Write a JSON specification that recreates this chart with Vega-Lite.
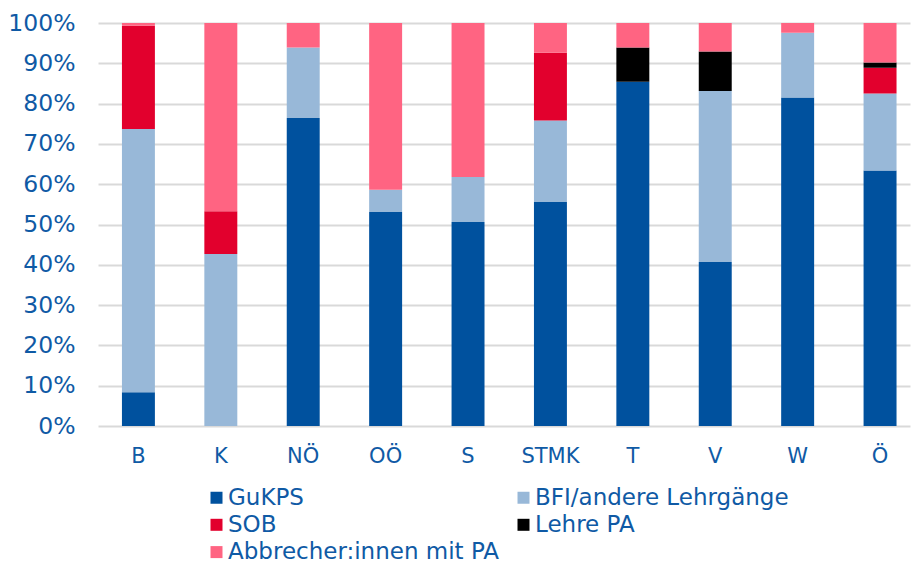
{
  "$schema": "https://vega.github.io/schema/vega-lite/v6.json",
  "width": 812,
  "height": 403,
  "autosize": "none",
  "padding": {"left": 98, "top": 23, "right": 2, "bottom": 137},
  "background": "white",
  "config": {
    "font": "DejaVu Sans",
    "view": {"stroke": null}
  },
  "data": {
    "values": [
      {"land": "B", "serie": "GuKPS", "o": 1, "wert": 8.4},
      {"land": "B", "serie": "BFI/andere Lehrgänge", "o": 2, "wert": 65.3},
      {"land": "B", "serie": "SOB", "o": 3, "wert": 25.6},
      {"land": "B", "serie": "Lehre PA", "o": 4, "wert": 0},
      {"land": "B", "serie": "Abbrecher:innen mit PA", "o": 5, "wert": 0.7},
      {"land": "K", "serie": "GuKPS", "o": 1, "wert": 0},
      {"land": "K", "serie": "BFI/andere Lehrgänge", "o": 2, "wert": 42.7},
      {"land": "K", "serie": "SOB", "o": 3, "wert": 10.6},
      {"land": "K", "serie": "Lehre PA", "o": 4, "wert": 0},
      {"land": "K", "serie": "Abbrecher:innen mit PA", "o": 5, "wert": 46.7},
      {"land": "NÖ", "serie": "GuKPS", "o": 1, "wert": 76.4},
      {"land": "NÖ", "serie": "BFI/andere Lehrgänge", "o": 2, "wert": 17.5},
      {"land": "NÖ", "serie": "SOB", "o": 3, "wert": 0},
      {"land": "NÖ", "serie": "Lehre PA", "o": 4, "wert": 0},
      {"land": "NÖ", "serie": "Abbrecher:innen mit PA", "o": 5, "wert": 6.1},
      {"land": "OÖ", "serie": "GuKPS", "o": 1, "wert": 53.1},
      {"land": "OÖ", "serie": "BFI/andere Lehrgänge", "o": 2, "wert": 5.5},
      {"land": "OÖ", "serie": "SOB", "o": 3, "wert": 0},
      {"land": "OÖ", "serie": "Lehre PA", "o": 4, "wert": 0},
      {"land": "OÖ", "serie": "Abbrecher:innen mit PA", "o": 5, "wert": 41.4},
      {"land": "S", "serie": "GuKPS", "o": 1, "wert": 50.6},
      {"land": "S", "serie": "BFI/andere Lehrgänge", "o": 2, "wert": 11.2},
      {"land": "S", "serie": "SOB", "o": 3, "wert": 0},
      {"land": "S", "serie": "Lehre PA", "o": 4, "wert": 0},
      {"land": "S", "serie": "Abbrecher:innen mit PA", "o": 5, "wert": 38.2},
      {"land": "STMK", "serie": "GuKPS", "o": 1, "wert": 55.6},
      {"land": "STMK", "serie": "BFI/andere Lehrgänge", "o": 2, "wert": 20.2},
      {"land": "STMK", "serie": "SOB", "o": 3, "wert": 16.8},
      {"land": "STMK", "serie": "Lehre PA", "o": 4, "wert": 0},
      {"land": "STMK", "serie": "Abbrecher:innen mit PA", "o": 5, "wert": 7.4},
      {"land": "T", "serie": "GuKPS", "o": 1, "wert": 85.4},
      {"land": "T", "serie": "BFI/andere Lehrgänge", "o": 2, "wert": 0},
      {"land": "T", "serie": "SOB", "o": 3, "wert": 0},
      {"land": "T", "serie": "Lehre PA", "o": 4, "wert": 8.5},
      {"land": "T", "serie": "Abbrecher:innen mit PA", "o": 5, "wert": 6.1},
      {"land": "V", "serie": "GuKPS", "o": 1, "wert": 40.7},
      {"land": "V", "serie": "BFI/andere Lehrgänge", "o": 2, "wert": 42.4},
      {"land": "V", "serie": "SOB", "o": 3, "wert": 0},
      {"land": "V", "serie": "Lehre PA", "o": 4, "wert": 9.8},
      {"land": "V", "serie": "Abbrecher:innen mit PA", "o": 5, "wert": 7.1},
      {"land": "W", "serie": "GuKPS", "o": 1, "wert": 81.5},
      {"land": "W", "serie": "BFI/andere Lehrgänge", "o": 2, "wert": 16.1},
      {"land": "W", "serie": "SOB", "o": 3, "wert": 0},
      {"land": "W", "serie": "Lehre PA", "o": 4, "wert": 0},
      {"land": "W", "serie": "Abbrecher:innen mit PA", "o": 5, "wert": 2.4},
      {"land": "Ö", "serie": "GuKPS", "o": 1, "wert": 63.4},
      {"land": "Ö", "serie": "BFI/andere Lehrgänge", "o": 2, "wert": 19.1},
      {"land": "Ö", "serie": "SOB", "o": 3, "wert": 6.4},
      {"land": "Ö", "serie": "Lehre PA", "o": 4, "wert": 1.3},
      {"land": "Ö", "serie": "Abbrecher:innen mit PA", "o": 5, "wert": 9.8}
    ]
  },
  "mark": {"type": "bar"},
  "encoding": {
    "x": {
      "field": "land",
      "type": "nominal",
      "sort": ["B", "K", "NÖ", "OÖ", "S", "STMK", "T", "V", "W", "Ö"],
      "scale": {"paddingInner": 0.6, "paddingOuter": 0.227, "align": 0.64},
      "axis": {
        "title": null,
        "labelAngle": 0,
        "labelFontSize": 21,
        "labelColor": "#0F5AA5",
        "labelPadding": 19,
        "ticks": false,
        "domain": false,
        "grid": false
      }
    },
    "y": {
      "field": "wert",
      "type": "quantitative",
      "stack": "zero",
      "scale": {"domain": [0, 100], "nice": false},
      "axis": {
        "title": null,
        "values": [0, 10, 20, 30, 40, 50, 60, 70, 80, 90, 100],
        "labelExpr": "datum.value + '%'",
        "labelFontSize": 23.5,
        "labelColor": "#0F5AA5",
        "labelPadding": 23,
        "ticks": false,
        "domain": false,
        "grid": true,
        "gridColor": "#D9D9D9",
        "gridWidth": 2
      }
    },
    "order": {"field": "o", "type": "quantitative"},
    "color": {
      "field": "serie",
      "type": "nominal",
      "scale": {
        "domain": ["GuKPS", "SOB", "Abbrecher:innen mit PA", "BFI/andere Lehrgänge", "Lehre PA"],
        "range": ["#00519E", "#E2002D", "#FF6482", "#98B8D8", "#000000"]
      },
      "legend": {
        "title": null,
        "orient": "none",
        "legendX": 107,
        "legendY": 463,
        "columns": 2,
        "columnPadding": 12,
        "rowPadding": 3.3,
        "symbolType": "square",
        "symbolSize": 144,
        "symbolStrokeWidth": 0,
        "symbolOffset": 0,
        "labelOffset": 0,
        "labelFontSize": 23,
        "labelColor": "#0F5AA5",
        "labelLimit": 400
      }
    }
  }
}
